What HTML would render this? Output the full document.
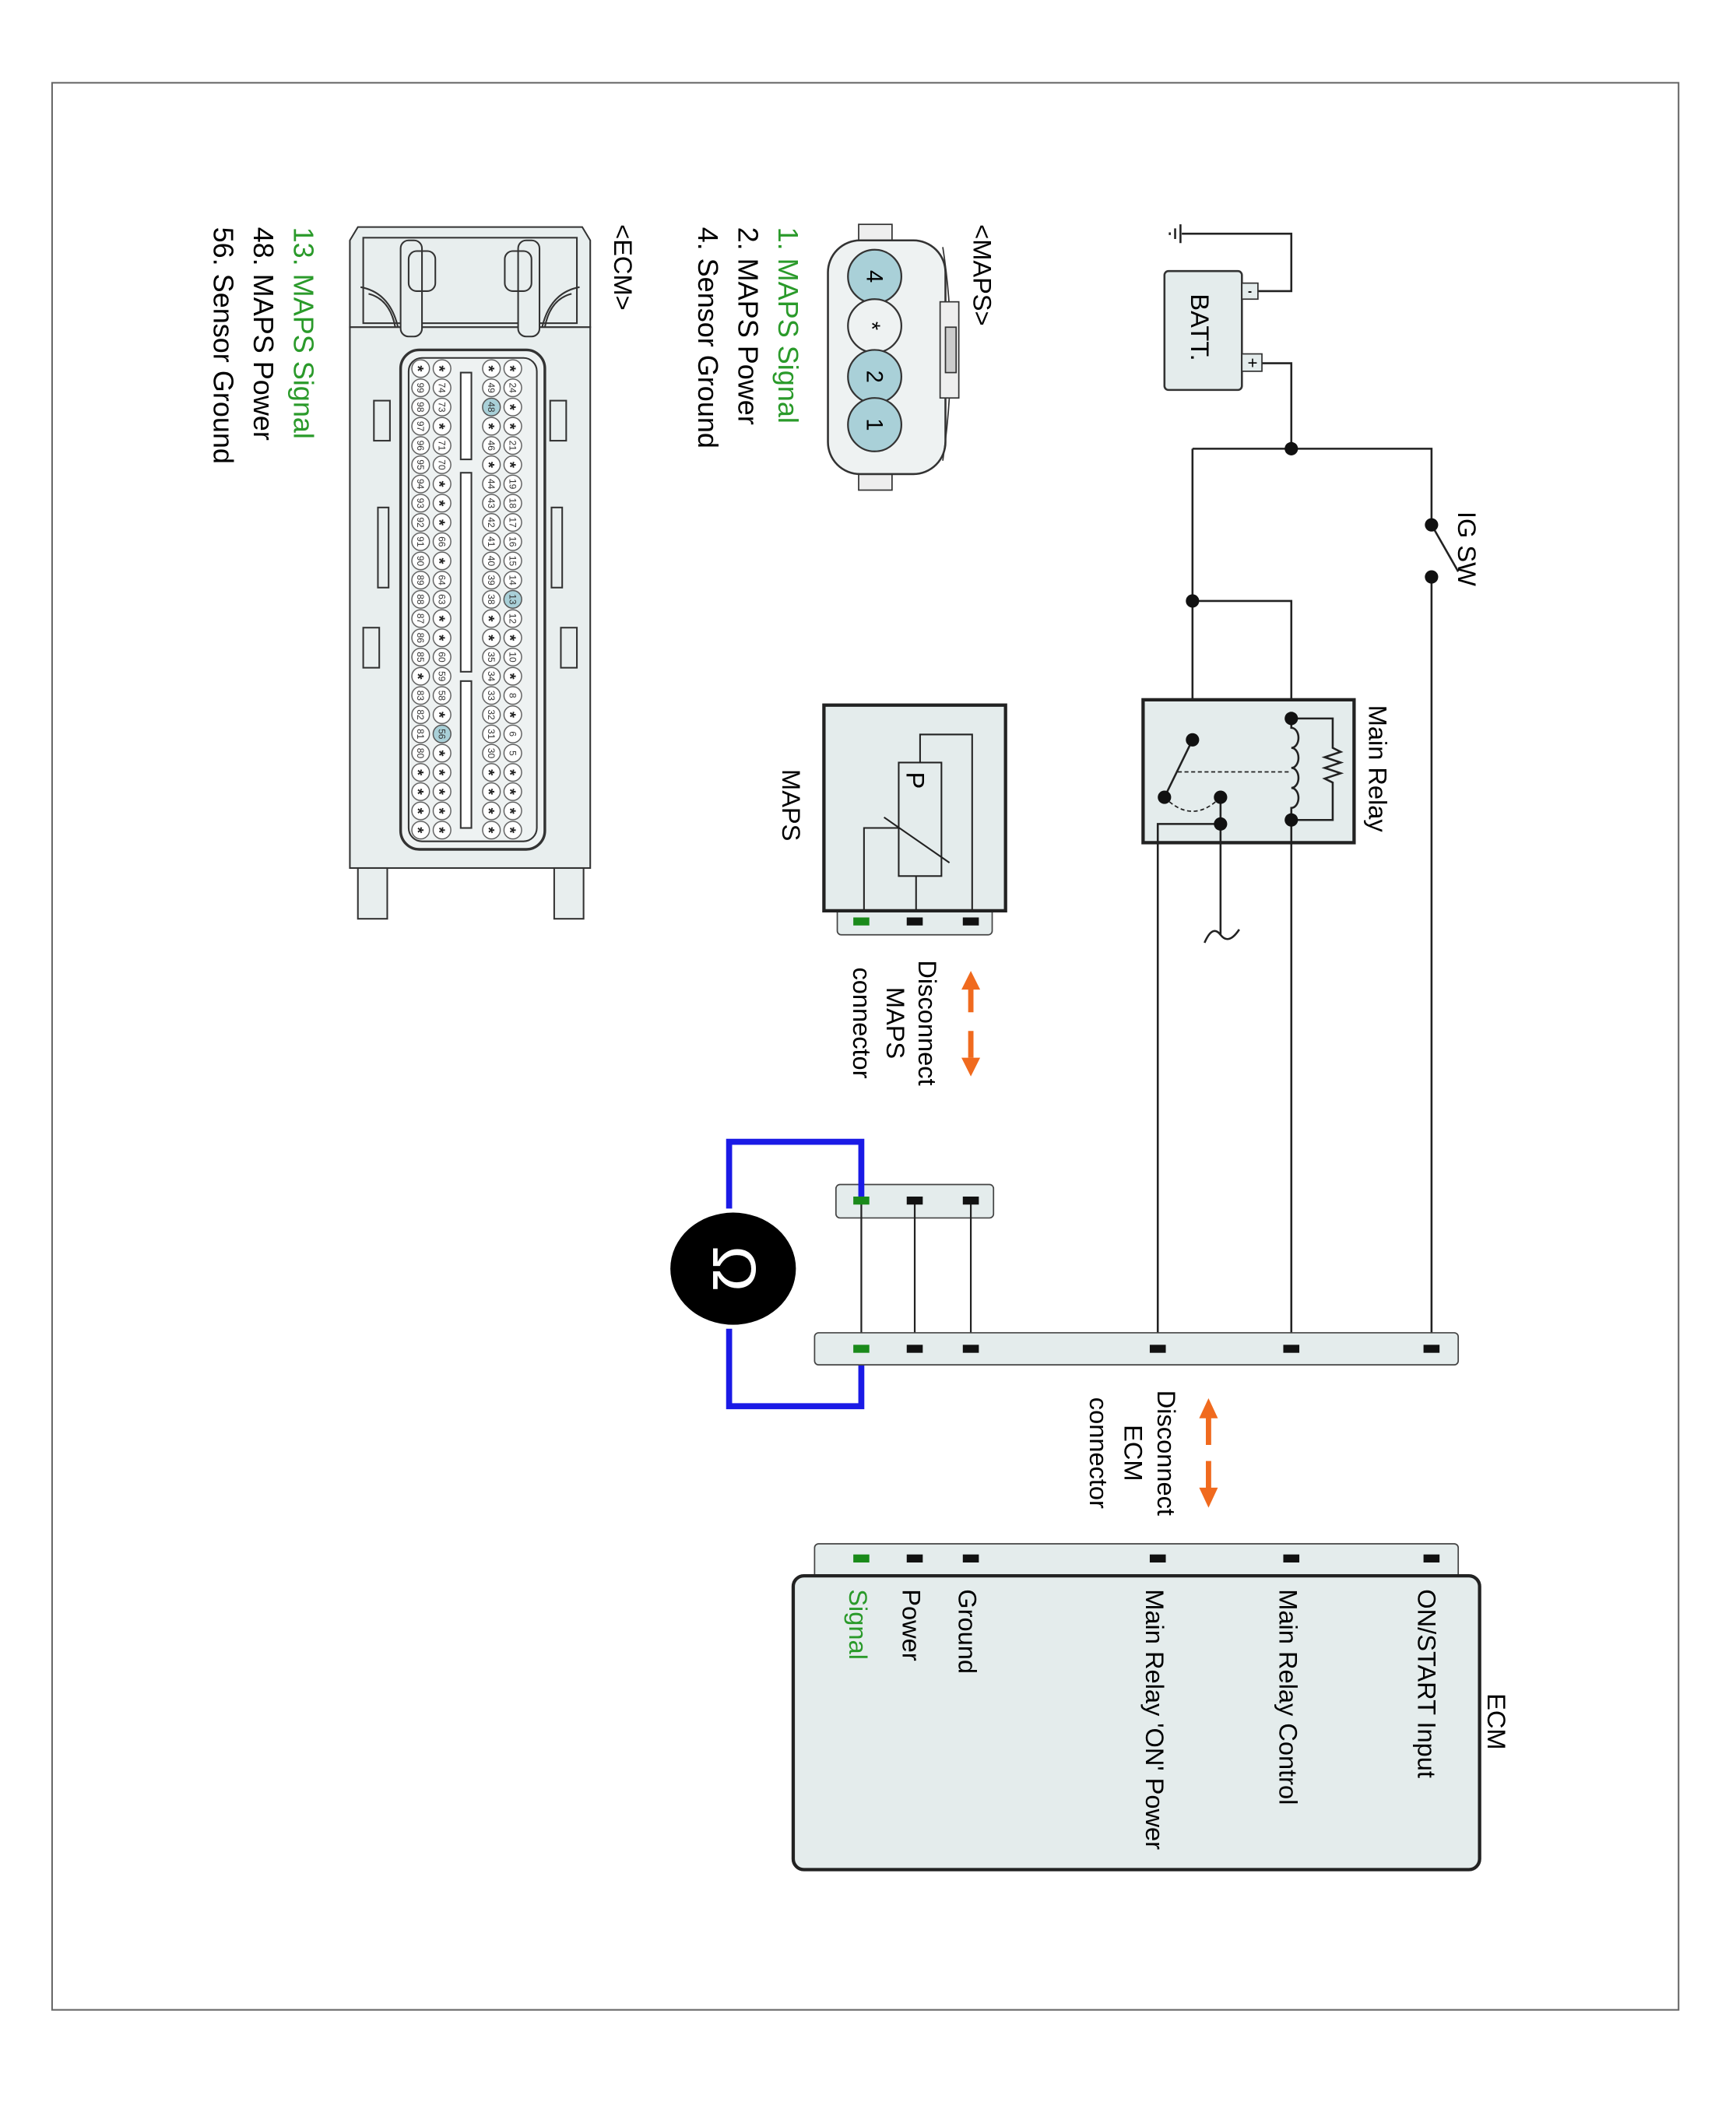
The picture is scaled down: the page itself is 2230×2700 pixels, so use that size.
<!DOCTYPE html>
<html><head><meta charset="utf-8"><style>
html,body{margin:0;padding:0;background:#fff;}
svg{display:block;}
text{font-family:"Liberation Sans",Arial,sans-serif;}
</style></head><body>
<svg width="2230" height="2700" viewBox="0 0 1300 1574" xmlns="http://www.w3.org/2000/svg">
<defs>
<pattern id="pA" patternUnits="userSpaceOnUse" x="377" y="269" width="14" height="14.4"><circle cx="7" cy="7" r="6.6" fill="#fff" stroke="#555" stroke-width="0.8"/></pattern>
<pattern id="pB" patternUnits="userSpaceOnUse" x="361" y="269" width="14" height="14.4"><circle cx="7" cy="7" r="6.6" fill="#fff" stroke="#555" stroke-width="0.8"/></pattern>
<pattern id="pC" patternUnits="userSpaceOnUse" x="324" y="269" width="14" height="14.4"><circle cx="7" cy="7" r="6.6" fill="#fff" stroke="#555" stroke-width="0.8"/></pattern>
<pattern id="pD" patternUnits="userSpaceOnUse" x="308" y="269" width="14" height="14.4"><circle cx="7" cy="7" r="6.6" fill="#fff" stroke="#555" stroke-width="0.8"/></pattern>
</defs>
<rect x="39" y="62" width="1218" height="1443" fill="#fff" stroke="#666" stroke-width="1.2"/>

<!-- Battery -->
<g stroke="#222" stroke-width="1.5" fill="none">
<path d="M942,218 H967 V175 H885"/>
<path d="M945,272 H967 V336"/>
<path d="M893,336 H1072 V392"/>
<path d="M1072,432 V1010"/>
<path d="M893,336 V554"/>
<path d="M893,450 H967 V538"/>
<path d="M1072,393 L1092,428"/>
<path d="M884,168 V182 M880,171 V179 M876,174 V176"/>
</g>
<rect x="872" y="203" width="58" height="89" rx="3" fill="#e4ecec" stroke="#333" stroke-width="1.5"/>
<rect x="930" y="212" width="12" height="12" fill="#e4ecec" stroke="#333"/>
<rect x="930" y="265" width="15" height="13" fill="#e4ecec" stroke="#333"/>
<text x="936" y="221" font-size="9" text-anchor="middle" font-weight="bold">-</text>
<text x="938" y="276" font-size="13" text-anchor="middle">+</text>
<text transform="translate(892,220) rotate(90)" font-size="19">BATT.</text>
<text transform="translate(1092,383) rotate(90)" font-size="19">IG SW</text>
<g fill="#111">
<circle cx="967" cy="336" r="5"/><circle cx="1072" cy="393" r="5"/><circle cx="1072" cy="432" r="5"/>
<circle cx="893" cy="450" r="5"/>
</g>

<!-- Main Relay -->
<rect x="856" y="524" width="158" height="107" fill="#e4ecec" stroke="#222" stroke-width="2.5"/>
<text transform="translate(1025,528) rotate(90)" font-size="19">Main Relay</text>
<g stroke="#222" stroke-width="1.5" fill="none">
<path d="M967,538 V545 a5,7 0 0 1 0,15 a5,7 0 0 1 0,15 a5,7 0 0 1 0,15 a5,7 0 0 1 0,15 V614"/>
<path d="M967,538 H998 V560 l6,3 -12,4 12,4 -12,4 12,4 -12,4 6,3 V614 H967"/>
<path d="M893,554 L872,597"/>
<path d="M914,597 V700 M902,706 q6,-14 12,-6 q6,8 14,-4"/>
<path d="M867,1010 V617 H914"/>
<path d="M967,614 V1010"/>
</g>
<path d="M882,578 H967" stroke="#222" stroke-width="1" stroke-dasharray="3,2" fill="none"/>
<path d="M872,597 Q893,618 914,597" stroke="#222" stroke-width="1" stroke-dasharray="3,2" fill="none"/>
<g fill="#111">
<circle cx="967" cy="538" r="5"/><circle cx="967" cy="614" r="5"/><circle cx="893" cy="554" r="5"/>
<circle cx="872" cy="597" r="5"/><circle cx="914" cy="597" r="5"/><circle cx="914" cy="617" r="5"/>
</g>

<!-- MAPS component -->
<rect x="627" y="680" width="116" height="20" rx="3" fill="#e4ecec" stroke="#444"/>
<rect x="617" y="528" width="136" height="154" fill="#e4ecec" stroke="#222" stroke-width="2.5"/>
<g stroke="#222" stroke-width="1.2" fill="none">
<rect x="673" y="571" width="32" height="85"/>
<path d="M689,571 V550 H728 V682"/>
<path d="M686,656 V682"/>
<path d="M647,682 V620 H673"/>
<path d="M662,612 L711,646"/>
</g>
<text transform="translate(679,578) rotate(90)" font-size="19">P</text>
<text transform="translate(586,576) rotate(90)" font-size="19">MAPS</text>
<rect x="639" y="687" width="12" height="6" fill="#1a8a1a"/>
<rect x="679" y="687" width="12" height="6" fill="#111"/>
<rect x="721" y="687" width="12" height="6" fill="#111"/>

<!-- Disconnect MAPS -->
<g stroke="#f06a1e" stroke-width="4">
<path d="M727,740 V758"/><path d="M727,772 V792"/>
</g>
<polygon points="727,727 720,741 734,741" fill="#f06a1e"/>
<polygon points="727,806 720,792 734,792" fill="#f06a1e"/>
<g font-size="19" text-anchor="middle">
<text transform="translate(688,766) rotate(90)">Disconnect</text>
<text transform="translate(664,766) rotate(90)">MAPS</text>
<text transform="translate(639,766) rotate(90)">connector</text>
</g>

<!-- MAPS harness connector -->
<rect x="626" y="887" width="118" height="25" rx="3" fill="#e4ecec" stroke="#444"/>
<g stroke="#222" stroke-width="1.3">
<path d="M645,899 V1010 M685,899 V1010 M727,899 V1010"/>
</g>

<!-- Blue leads & meter -->
<path d="M645,899 V855 H546 V905 M546,995 V1053 H645 V1010" stroke="#1a1ae6" stroke-width="4.5" fill="none"/>
<ellipse cx="549" cy="950" rx="47" ry="42" fill="#000"/>
<text transform="translate(534,950) rotate(90)" font-size="46" fill="#fff" text-anchor="middle">Ω</text>

<rect x="639" y="896" width="12" height="6" fill="#1a8a1a"/>
<rect x="679" y="896" width="12" height="6" fill="#111"/>
<rect x="721" y="896" width="12" height="6" fill="#111"/>

<!-- ECM harness connector -->
<rect x="610" y="998" width="482" height="24" rx="3" fill="#e4ecec" stroke="#444"/>
<rect x="639" y="1007" width="12" height="6" fill="#1a8a1a"/>
<g fill="#111">
<rect x="679" y="1007" width="12" height="6"/><rect x="721" y="1007" width="12" height="6"/>
<rect x="861" y="1007" width="12" height="6"/><rect x="961" y="1007" width="12" height="6"/>
<rect x="1066" y="1007" width="12" height="6"/>
</g>

<!-- Disconnect ECM -->
<g stroke="#f06a1e" stroke-width="4">
<path d="M905,1060 V1082"/><path d="M905,1094 V1116"/>
</g>
<polygon points="905,1047 898,1062 912,1062" fill="#f06a1e"/>
<polygon points="905,1129 898,1114 912,1114" fill="#f06a1e"/>
<g font-size="19" text-anchor="middle">
<text transform="translate(867,1088) rotate(90)">Disconnect</text>
<text transform="translate(842,1088) rotate(90)">ECM</text>
<text transform="translate(816,1088) rotate(90)">connector</text>
</g>

<!-- ECM box -->
<rect x="610" y="1156" width="482" height="28" rx="3" fill="#e4ecec" stroke="#444"/>
<rect x="639" y="1164" width="12" height="6" fill="#1a8a1a"/>
<g fill="#111">
<rect x="679" y="1164" width="12" height="6"/><rect x="721" y="1164" width="12" height="6"/>
<rect x="861" y="1164" width="12" height="6"/><rect x="961" y="1164" width="12" height="6"/>
<rect x="1066" y="1164" width="12" height="6"/>
</g>
<rect x="594" y="1180" width="514" height="220" rx="8" fill="#e4ecec" stroke="#222" stroke-width="2.5"/>
<g font-size="19">
<text transform="translate(1062,1190) rotate(90)">ON/START Input</text>
<text transform="translate(958,1190) rotate(90)">Main Relay Control</text>
<text transform="translate(858,1190) rotate(90)">Main Relay 'ON' Power</text>
<text transform="translate(718,1190) rotate(90)">Ground</text>
<text transform="translate(676,1190) rotate(90)">Power</text>
<text transform="translate(636,1190) rotate(90)" fill="#2a9a2a">Signal</text>
<text transform="translate(1114,1268) rotate(90)">ECM</text>
</g>

<!-- <MAPS> connector drawing -->
<text transform="translate(729,168) rotate(90)" font-size="19">&lt;MAPS&gt;</text>
<rect x="643" y="168" width="25" height="12" fill="#eee" stroke="#333"/>
<rect x="643" y="355" width="25" height="12" fill="#eee" stroke="#333"/>
<rect x="620" y="180" width="88" height="175" rx="24" fill="#eef2f2" stroke="#333" stroke-width="1.5"/>
<path d="M706,185 Q718,262 706,345" stroke="#333" fill="none"/>
<rect x="704" y="226" width="14" height="72" fill="#eee" stroke="#333"/>
<rect x="708" y="245" width="8" height="34" fill="#ccc" stroke="#333"/>
<g stroke="#333" stroke-width="1.3">
<circle cx="655" cy="207" r="20" fill="#a9d0d8"/>
<circle cx="655" cy="244" r="20" fill="#eef2f2"/>
<circle cx="655" cy="282" r="20" fill="#a9d0d8"/>
<circle cx="655" cy="318" r="20" fill="#a9d0d8"/>
</g>
<g font-size="17" text-anchor="middle">
<text transform="translate(649,207) rotate(90)">4</text>
<text transform="translate(647,244) rotate(90)">*</text>
<text transform="translate(649,282) rotate(90)">2</text>
<text transform="translate(649,318) rotate(90)">1</text>
</g>
<g font-size="21">
<text transform="translate(583,170) rotate(90)" fill="#2a9a2a">1. MAPS Signal</text>
<text transform="translate(553,170) rotate(90)">2. MAPS Power</text>
<text transform="translate(523,170) rotate(90)">4. Sensor Ground</text>
</g>

<!-- <ECM> connector drawing -->
<text transform="translate(460,168) rotate(90)" font-size="19">&lt;ECM&gt;</text>
<g stroke="#333" stroke-width="1.2" fill="#e8eeee">
<path d="M262,180 L268,170 H436 L442,180 V245 H262 Z"/>
<rect x="262" y="245" width="180" height="405"/>
<rect x="268" y="650" width="22" height="38"/>
<rect x="415" y="650" width="22" height="38"/>
<rect x="272" y="178" width="160" height="64" fill="none"/>
<rect x="300" y="180" width="16" height="72" rx="6"/>
<rect x="388" y="180" width="16" height="72" rx="6"/>
<rect x="306" y="188" width="20" height="30" rx="6" fill="none"/>
<rect x="378" y="188" width="20" height="30" rx="6" fill="none"/>
<path d="M270,215 q22,4 28,30 M434,215 q-22,4 -28,30 M276,220 q16,4 20,25 M428,220 q-16,4 -20,25" fill="none"/>
<rect x="272" y="470" width="12" height="30"/>
<rect x="420" y="470" width="12" height="30"/>
<rect x="280" y="300" width="12" height="30"/>
<rect x="412" y="300" width="12" height="30"/>
<rect x="283" y="380" width="8" height="60"/>
<rect x="413" y="380" width="8" height="60"/>
<rect x="300" y="262" width="108" height="374" rx="14" fill="#eef2f2" stroke-width="2"/>
<rect x="306" y="268" width="96" height="362" rx="10" fill="none"/>
<rect x="345" y="279" width="8" height="65" fill="#fff"/>
<rect x="345" y="354" width="8" height="149" fill="#fff"/>
<rect x="345" y="510" width="8" height="110" fill="#fff"/>
</g>
<rect x="377" y="269" width="14" height="360" fill="url(#pA)"/>
<rect x="361" y="269" width="14" height="360" fill="url(#pB)"/>
<rect x="324" y="269" width="14" height="360" fill="url(#pC)"/>
<rect x="308" y="269" width="14" height="360" fill="url(#pD)"/>
<g fill="#a9d0d8" stroke="#555" stroke-width="0.8">
<circle cx="368" cy="304.8" r="6.6"/><circle cx="384" cy="448.8" r="6.6"/><circle cx="331" cy="549.6" r="6.6"/>
</g>
<g transform="rotate(90)" text-anchor="middle" fill="#333">
<g font-size="7">
<text y="-381.6"><tspan x="290.4">24</tspan><tspan x="333.6">21</tspan><tspan x="362.4">19</tspan><tspan x="376.8">18</tspan><tspan x="391.2">17</tspan><tspan x="405.6">16</tspan><tspan x="420">15</tspan><tspan x="434.4">14</tspan><tspan x="448.8">13</tspan><tspan x="463.2">12</tspan><tspan x="492">10</tspan><tspan x="520.8">8</tspan><tspan x="549.6">6</tspan><tspan x="564">5</tspan></text>
<text y="-365.6"><tspan x="290.4">49</tspan><tspan x="304.8">48</tspan><tspan x="333.6">46</tspan><tspan x="362.4">44</tspan><tspan x="376.8">43</tspan><tspan x="391.2">42</tspan><tspan x="405.6">41</tspan><tspan x="420">40</tspan><tspan x="434.4">39</tspan><tspan x="448.8">38</tspan><tspan x="492">35</tspan><tspan x="506.4">34</tspan><tspan x="520.8">33</tspan><tspan x="535.2">32</tspan><tspan x="549.6">31</tspan><tspan x="564">30</tspan></text>
<text y="-328.6"><tspan x="290.4">74</tspan><tspan x="304.8">73</tspan><tspan x="333.6">71</tspan><tspan x="348">70</tspan><tspan x="405.6">66</tspan><tspan x="434.4">64</tspan><tspan x="448.8">63</tspan><tspan x="492">60</tspan><tspan x="506.4">59</tspan><tspan x="520.8">58</tspan><tspan x="549.6">56</tspan></text>
<text y="-312.6"><tspan x="290.4">99</tspan><tspan x="304.8">98</tspan><tspan x="319.2">97</tspan><tspan x="333.6">96</tspan><tspan x="348">95</tspan><tspan x="362.4">94</tspan><tspan x="376.8">93</tspan><tspan x="391.2">92</tspan><tspan x="405.6">91</tspan><tspan x="420">90</tspan><tspan x="434.4">89</tspan><tspan x="448.8">88</tspan><tspan x="463.2">87</tspan><tspan x="477.6">86</tspan><tspan x="492">85</tspan><tspan x="520.8">83</tspan><tspan x="535.2">82</tspan><tspan x="549.6">81</tspan><tspan x="564">80</tspan></text>
</g>
<g font-size="12" font-weight="bold" fill="#222">
<text y="-378"><tspan x="276">*</tspan><tspan x="304.8">*</tspan><tspan x="319.2">*</tspan><tspan x="348">*</tspan><tspan x="477.6">*</tspan><tspan x="506.4">*</tspan><tspan x="535.2">*</tspan><tspan x="578.4">*</tspan><tspan x="592.8">*</tspan><tspan x="607.2">*</tspan><tspan x="621.6">*</tspan></text>
<text y="-362"><tspan x="276">*</tspan><tspan x="319.2">*</tspan><tspan x="348">*</tspan><tspan x="463.2">*</tspan><tspan x="477.6">*</tspan><tspan x="578.4">*</tspan><tspan x="592.8">*</tspan><tspan x="607.2">*</tspan><tspan x="621.6">*</tspan></text>
<text y="-325"><tspan x="276">*</tspan><tspan x="319.2">*</tspan><tspan x="362.4">*</tspan><tspan x="376.8">*</tspan><tspan x="391.2">*</tspan><tspan x="420">*</tspan><tspan x="463.2">*</tspan><tspan x="477.6">*</tspan><tspan x="535.2">*</tspan><tspan x="564">*</tspan><tspan x="578.4">*</tspan><tspan x="592.8">*</tspan><tspan x="607.2">*</tspan><tspan x="621.6">*</tspan></text>
<text y="-309"><tspan x="276">*</tspan><tspan x="506.4">*</tspan><tspan x="578.4">*</tspan><tspan x="592.8">*</tspan><tspan x="607.2">*</tspan><tspan x="621.6">*</tspan></text>
</g>
</g>
<g font-size="21">
<text transform="translate(220,170) rotate(90)" fill="#2a9a2a">13. MAPS Signal</text>
<text transform="translate(190,170) rotate(90)">48. MAPS Power</text>
<text transform="translate(160,170) rotate(90)">56. Sensor Ground</text>
</g>
</svg>
</body></html>
